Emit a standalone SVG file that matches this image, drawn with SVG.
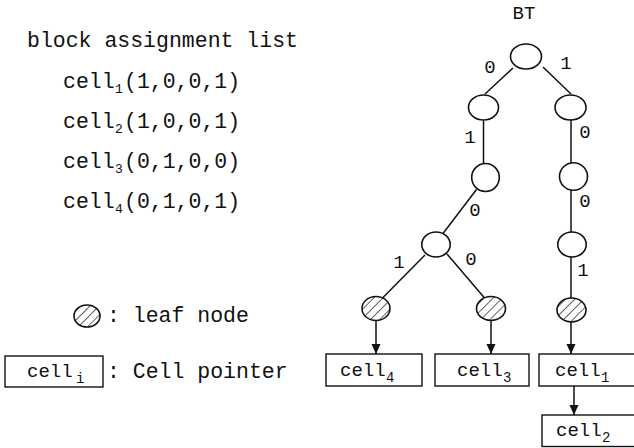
<svg xmlns="http://www.w3.org/2000/svg" width="634" height="448" viewBox="0 0 634 448">
  <style>
    .t { font-family: "Liberation Mono", "DejaVu Sans Mono", monospace; fill: #111; }
    .big { font-size: 21.5px; }
    .lbl { font-size: 19px; }
    .sub { font-size: 13px; }
    .sub2 { font-size: 14px; }
    .node { fill: #fff; stroke: #111; stroke-width: 1.6; }
    .leaf { fill: url(#hatch); stroke: #111; stroke-width: 1.6; }
    .box { fill: #fff; stroke: #111; stroke-width: 1.4; }
    .edge { stroke: #111; stroke-width: 1.5; fill: none; }
    .ptr { stroke: #111; stroke-width: 1.5; fill: none; marker-end: url(#arrow); }
  </style>
  <defs>
    <pattern id="hatch" patternUnits="userSpaceOnUse" width="6.5" height="6.5" patternTransform="rotate(45)">
      <rect width="6.5" height="6.5" fill="#fff"/>
      <line x1="0" y1="0" x2="0" y2="6.5" stroke="#111" stroke-width="1.3"/>
    </pattern>
    <marker id="arrow" markerUnits="userSpaceOnUse" markerWidth="10" markerHeight="12" refX="10" refY="4.5" orient="auto">
      <path d="M0,0 L10,4.5 L0,9 z" fill="#111"/>
    </marker>
  </defs>

  <!-- block assignment list -->
  <g id="assignment-list">
    <text class="t big" x="27" y="47">block assignment list</text>
    <text class="t big" x="63" y="88">cell</text><text class="t sub" x="115" y="93">1</text><text class="t big" x="124" y="88">(1,0,0,1)</text>
    <text class="t big" x="63" y="128">cell</text><text class="t sub" x="115" y="133">2</text><text class="t big" x="124" y="128">(1,0,0,1)</text>
    <text class="t big" x="63" y="168">cell</text><text class="t sub" x="115" y="173">3</text><text class="t big" x="124" y="168">(0,1,0,0)</text>
    <text class="t big" x="63" y="208">cell</text><text class="t sub" x="115" y="213">4</text><text class="t big" x="124" y="208">(0,1,0,1)</text>
  </g>

  <!-- legend -->
  <g id="legend-leaf">
    <ellipse class="leaf" cx="87" cy="316" rx="13" ry="11"/>
    <text class="t big" x="107" y="322">: leaf node</text>
  </g>
  <g id="legend-pointer">
    <rect class="box" x="5" y="356" width="98" height="31"/>
    <text class="t lbl" x="27" y="377">cell</text><text class="t sub2" x="76" y="383">i</text>
    <text class="t big" x="107" y="378">: Cell pointer</text>
  </g>

  <text class="t lbl" x="524" y="19" text-anchor="middle">BT</text>

  <!-- tree edges, bit labels and pointer arrows -->
  <g id="connectors">
    <line class="edge" x1="513" y1="68" x2="485" y2="94"/>
    <line class="edge" x1="543" y1="67" x2="571" y2="94"/>
    <line class="edge" x1="483.5" y1="120" x2="483.5" y2="164"/>
    <line class="edge" x1="571" y1="120" x2="571" y2="163"/>
    <line class="edge" x1="476.5" y1="189.5" x2="443" y2="233.5"/>
    <line class="edge" x1="571" y1="190" x2="571" y2="232"/>
    <line class="edge" x1="425" y1="255" x2="382" y2="298.5"/>
    <line class="edge" x1="447" y1="254" x2="485" y2="298.5"/>
    <line class="edge" x1="571" y1="257" x2="571" y2="298"/>
    <line class="ptr" x1="376" y1="320.5" x2="376" y2="354"/>
    <line class="ptr" x1="491" y1="320.5" x2="491" y2="354"/>
    <line class="ptr" x1="571" y1="322" x2="571" y2="354"/>
    <line class="ptr" x1="574" y1="386" x2="574" y2="415"/>

    <text class="t lbl" x="490" y="73" text-anchor="middle">0</text>
    <text class="t lbl" x="566" y="69" text-anchor="middle">1</text>
    <text class="t lbl" x="470" y="143" text-anchor="middle">1</text>
    <text class="t lbl" x="585" y="138" text-anchor="middle">0</text>
    <text class="t lbl" x="475" y="216" text-anchor="middle">0</text>
    <text class="t lbl" x="585" y="207" text-anchor="middle">0</text>
    <text class="t lbl" x="399" y="268" text-anchor="middle">1</text>
    <text class="t lbl" x="471" y="265" text-anchor="middle">0</text>
    <text class="t lbl" x="583" y="276" text-anchor="middle">1</text>
  </g>

  <!-- internal nodes -->
  <g id="n-root"><ellipse class="node" cx="526" cy="56.5" rx="15.5" ry="12.5"/></g>
  <g id="n-0"><ellipse class="node" cx="483.5" cy="107.5" rx="15" ry="12.5"/></g>
  <g id="n-1"><ellipse class="node" cx="570.5" cy="107.5" rx="15.5" ry="12.5"/></g>
  <g id="n-01"><ellipse class="node" cx="485.5" cy="177.5" rx="13.8" ry="14"/></g>
  <g id="n-10"><ellipse class="node" cx="573.5" cy="176.5" rx="14" ry="13.8"/></g>
  <g id="n-010"><ellipse class="node" cx="436" cy="244.5" rx="14.2" ry="12.5"/></g>
  <g id="n-100"><ellipse class="node" cx="572" cy="244.5" rx="14.2" ry="12.5"/></g>

  <!-- leaf nodes -->
  <g id="leaf-0101"><ellipse class="leaf" cx="376" cy="308.5" rx="14" ry="12"/></g>
  <g id="leaf-0100"><ellipse class="leaf" cx="491" cy="308.5" rx="14.5" ry="12"/></g>
  <g id="leaf-1001"><ellipse class="leaf" cx="571.5" cy="310" rx="14.5" ry="12"/></g>

  <!-- cell pointers -->
  <g id="cell4">
    <rect class="box" x="326" y="354" width="96" height="32"/>
    <text class="t lbl" x="340" y="376">cell</text><text class="t sub2" x="386" y="382">4</text>
  </g>
  <g id="cell3">
    <rect class="box" x="435" y="354" width="94" height="32"/>
    <text class="t lbl" x="457" y="376">cell</text><text class="t sub2" x="503" y="382">3</text>
  </g>
  <g id="cell1">
    <rect class="box" x="539" y="354" width="110" height="32"/>
    <text class="t lbl" x="555" y="376">cell</text><text class="t sub2" x="601" y="382">1</text>
  </g>
  <g id="cell2">
    <rect class="box" x="542" y="415" width="110" height="31.5"/>
    <text class="t lbl" x="556" y="436">cell</text><text class="t sub2" x="602" y="442">2</text>
  </g>
</svg>
